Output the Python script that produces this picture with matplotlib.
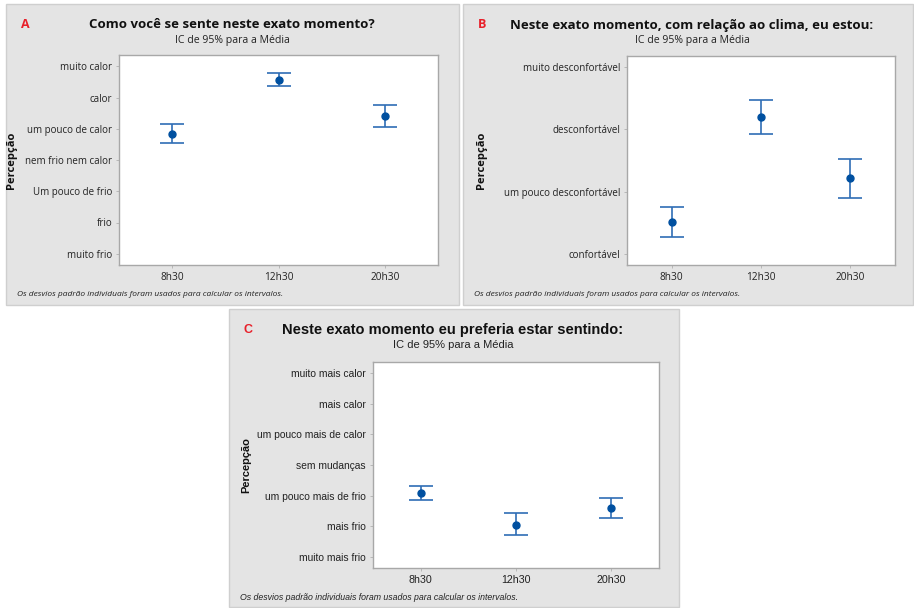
import matplotlib.pyplot as plt
from matplotlib.patches import Rectangle

# dados: médias e IC de 95% por horário
horarios = ["8h30", "12h30", "20h30"]

niveis_a = ["muito frio", "frio", "Um pouco de frio", "nem frio nem calor",
            "um pouco de calor", "calor", "muito calor"]
media_a = [4.83, 6.57, 5.41]
inf_a = [4.54, 6.37, 5.05]
sup_a = [5.14, 6.78, 5.75]

niveis_b = ["confortável", "um pouco desconfortável", "desconfortável",
            "muito desconfortável"]
media_b = [1.51, 3.19, 2.22]
inf_b = [1.28, 2.92, 1.90]
sup_b = [1.75, 3.46, 2.53]

niveis_c = ["muito mais frio", "mais frio", "um pouco mais de frio", "sem mudanças",
            "um pouco mais de calor", "mais calor", "muito mais calor"]
media_c = [3.09, 2.05, 2.59]
inf_c = [2.86, 1.73, 2.27]
sup_c = [3.33, 2.42, 2.92]

W, H = 914, 608
fig = plt.figure(figsize=(W / 100, H / 100), dpi=100)
fig.patch.set_facecolor("white")

AZUL_LINHA = "#2f6db5"
AZUL_PONTO = "#0050a0"
TEXTO = "#222222"


def caixa(x0, y0, x1, y1):
    fig.patches.append(Rectangle((x0 / W, 1 - y1 / H), (x1 - x0) / W, (y1 - y0) / H,
                                 transform=fig.transFigure, facecolor="#e4e4e4",
                                 edgecolor="#cfcfcf", linewidth=1, zorder=-5))


def painel(letra, caixa_px, eixo_px, titulo, fam, tam, titulo_x, ylabel_x, niveis,
           media, inf, sup):
    t_tit, t_sub, t_tick, t_nota = tam
    bx0, by0, bx1, by1 = caixa_px
    caixa(bx0, by0, bx1, by1)
    x0, y0, x1, y1 = eixo_px
    ax = fig.add_axes([x0 / W, 1 - y1 / H, (x1 - x0) / W, (y1 - y0) / H])
    ax.set_zorder(2)
    ax.set_facecolor("white")
    x = [1, 2, 3]
    erro = [[m - i for m, i in zip(media, inf)], [s - m for m, s in zip(media, sup)]]
    ax.errorbar(x, media, yerr=erro, fmt="o", color=AZUL_PONTO, ecolor=AZUL_LINHA,
                elinewidth=1.2, capsize=8.5, capthick=1.2, markersize=5)
    n = len(niveis)
    pad = 0.36 if n > 4 else 0.17
    ax.set_ylim(1 - pad, n + pad)
    ax.set_xlim(0.5, 3.5)
    ax.set_yticks(range(1, n + 1))
    ax.set_yticklabels(niveis, family=fam, fontsize=t_tick, color=TEXTO)
    ax.set_xticks(x)
    ax.set_xticklabels(horarios, family=fam, fontsize=t_tick + 0.3, color=TEXTO)
    ax.tick_params(length=2, width=0.6, color="#b0b0b0", pad=3)
    for s in ax.spines.values():
        s.set_color("#a8a8a8")
        s.set_linewidth(1)

    yc = (by0 + 21) / H
    fig.text((bx0 + 19) / W, 1 - yc, letra, color="#e8202a", fontsize=9,
             fontweight="bold", family=fam, ha="center", va="center")
    fig.text(titulo_x / W, 1 - yc, titulo, fontsize=t_tit, fontweight="bold",
             family=fam, ha="center", va="center", color="#111111")
    fig.text(titulo_x / W, 1 - (by0 + 36) / H, "IC de 95% para a Média", fontsize=t_sub,
             family=fam, ha="center", va="center", color=TEXTO)
    fig.text(ylabel_x / W, 1 - ((y0 + y1) / 2) / H, "Percepção", rotation=90,
             fontsize=8, fontweight="bold", family=fam, ha="center", va="center",
             color="#111111")
    fig.text((bx0 + 11) / W, 1 - (by1 - 10) / H,
             "Os desvios padrão individuais foram usados para calcular os intervalos.",
             fontsize=t_nota, style="italic", family=fam, ha="left", va="center",
             color=TEXTO)
    return ax


painel("A", (6, 4, 459, 305), (119, 55, 438, 265),
       "Como você se sente neste exato momento?", "Open Sans", (9.5, 7.6, 7, 6),
       232, 12, niveis_a, media_a, inf_a, sup_a)

painel("B", (463, 4, 913, 305), (627, 56, 895, 265),
       "Neste exato momento, com relação ao clima, eu estou:", "Open Sans",
       (9.5, 7.6, 7, 6), 692, 482, niveis_b, media_b, inf_b, sup_b)

painel("C", (229, 309, 679, 607), (373, 362, 659, 568),
       "Neste exato momento eu preferia estar sentindo:", "Liberation Sans",
       (10.5, 8, 7.4, 6.3), 453, 246, niveis_c, media_c, inf_c, sup_c)

fig.savefig("out.png", dpi=100, facecolor="white")
